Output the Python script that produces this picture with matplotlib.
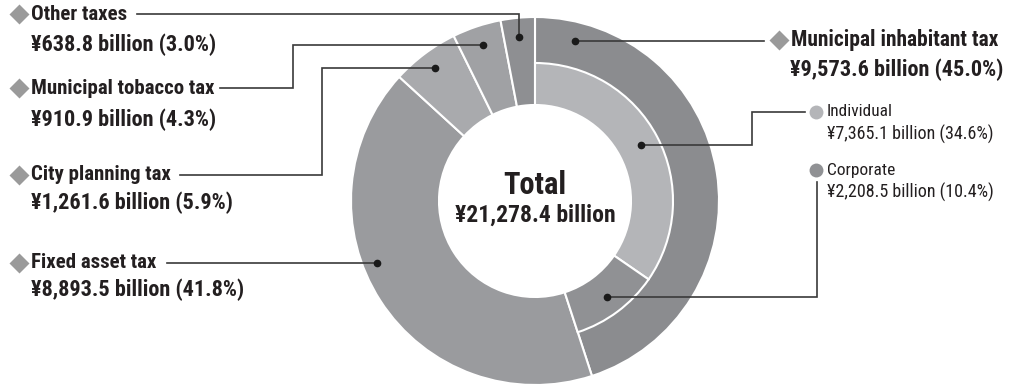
import numpy as np
import matplotlib
matplotlib.use("Agg")
import matplotlib.pyplot as plt
from matplotlib import font_manager

# municipal tax revenue (billion yen)
outer_names = ["Municipal inhabitant tax", "Fixed asset tax", "City planning tax",
               "Municipal tobacco tax", "Other taxes"]
outer_values = [9573.6, 8893.5, 1261.6, 910.9, 638.8]
outer_pct = [45.0, 41.8, 5.9, 4.3, 3.0]
outer_colors = ["#8b8c8f", "#9a9b9e", "#a9aaad", "#a0a1a4", "#8e8f92"]

inner_names = ["Individual", "Corporate"]
inner_values = [7365.1, 2208.5]
inner_pct = [34.6, 10.4]
inner_colors = ["#b4b5b8", "#909194"]

total = 21278.4

# pick a narrow font if there is one
names = {f.name for f in font_manager.fontManager.ttflist}
fam = [f for f in ["Roboto Condensed", "Liberation Sans Narrow", "DejaVu Sans Condensed"]
       if f in names] + ["DejaVu Sans"]
plt.rcParams["font.family"] = fam

W, H = 1011, 385
fig = plt.figure(figsize=(W / 100, H / 100), dpi=100)
ax = fig.add_axes([0, 0, 1, 1])

cx, cy = 535, 201
R_out, R_mid, R_hole = 184, 138, 96
txt = "#231f20"
line_c = "#3a3a3a"

ax.pie(outer_values, colors=outer_colors, startangle=-90, counterclock=True,
       radius=R_out, center=(cx, cy), frame=True,
       wedgeprops=dict(width=R_out - R_hole, edgecolor="white", linewidth=1.5))
rest = total - sum(inner_values)
w_in, _ = ax.pie(inner_values + [rest], colors=inner_colors + ["none"], startangle=-90,
                 counterclock=True, radius=R_mid, center=(cx, cy), frame=True,
                 wedgeprops=dict(width=R_mid - R_hole, edgecolor="white", linewidth=1.5))
w_in[-1].set_edgecolor("none")
ax.set_xlim(0, W)
ax.set_ylim(H, 0)
ax.set_aspect("equal")
ax.axis("off")


def mid_point(values, i, r):
    cum = np.cumsum([0] + list(values)) / total
    a = np.deg2rad(-90 + 360 * (cum[i] + cum[i + 1]) / 2)
    return cx + r * np.cos(a), cy + r * np.sin(a)


def point_at_y(r, y, side):
    return cx + side * np.sqrt(r ** 2 - (y - cy) ** 2), y


def leader(pts, dot):
    xs, ys = zip(*pts)
    ax.plot(xs, ys, color=line_c, lw=1.2, solid_joinstyle="miter")
    ax.plot(*dot, "o", color="#1a1a1a", ms=4.5)


# dots on the wedges
d_other = mid_point(outer_values, 4, 165)
d_tob = mid_point(outer_values, 3, 165)
d_city = mid_point(outer_values, 2, 166)
d_fixed = point_at_y(170, 263, -1)
d_inh = point_at_y(165, 41, 1)
d_ind = mid_point(inner_values, 0, 120)
d_corp = mid_point(inner_values, 1, 120)

leader([(137, 14), (d_other[0], 14), d_other], d_other)
leader([(220, 88), (293, 88), (293, d_tob[1]), d_tob], d_tob)
leader([(180, 175), (322, 175), (322, d_city[1]), d_city], d_city)
leader([(167, 263), d_fixed], d_fixed)
leader([d_inh, (764, d_inh[1])], d_inh)
leader([d_ind, (752, d_ind[1]), (752, 112), (805, 112)], d_ind)
leader([d_corp, (817, d_corp[1]), (817, 182)], d_corp)

# left labels
left = [(4, 14, 45), (3, 88, 120), (2, 175, 203), (1, 263, 290)]
for i, y1, y2 in left:
    ax.plot(19, y1, "D", color="#9a9a9a", ms=10.5, mec="none")
    ax.text(31, y1, outer_names[i], fontsize=15, fontweight="bold", color=txt,
            va="center", ha="left")
    ax.text(31, y2, "¥{:,.1f} billion ({:.1f}%)".format(outer_values[i], outer_pct[i]),
            fontsize=16, fontweight="bold", color=txt, va="center", ha="left")

# right labels
ax.plot(779, 40, "D", color="#9a9a9a", ms=10.5, mec="none")
ax.text(791, 40, outer_names[0], fontsize=15.5, fontweight="bold", color=txt,
        va="center", ha="left")
ax.text(790, 70, "¥{:,.1f} billion ({:.1f}%)".format(outer_values[0], outer_pct[0]),
        fontsize=16, fontweight="bold", color=txt, va="center", ha="left")

for i, y1, y2 in [(0, 112, 134), (1, 170, 192)]:
    ax.plot(816, y1, "o", color=inner_colors[i], ms=10, mec="none")
    ax.text(827, y1, inner_names[i], fontsize=12.5, color=txt, va="center", ha="left")
    ax.text(827, y2, "¥{:,.1f} billion ({:.1f}%)".format(inner_values[i], inner_pct[i]),
            fontsize=13, color=txt, va="center", ha="left")

# centre text
ax.text(cx, 185, "Total", fontsize=22, fontweight="bold", color=txt,
        ha="center", va="center")
ax.text(cx, 215, "¥{:,.1f} billion".format(total), fontsize=17, fontweight="bold",
        color=txt, ha="center", va="center")

fig.savefig("out.png", dpi=100)
